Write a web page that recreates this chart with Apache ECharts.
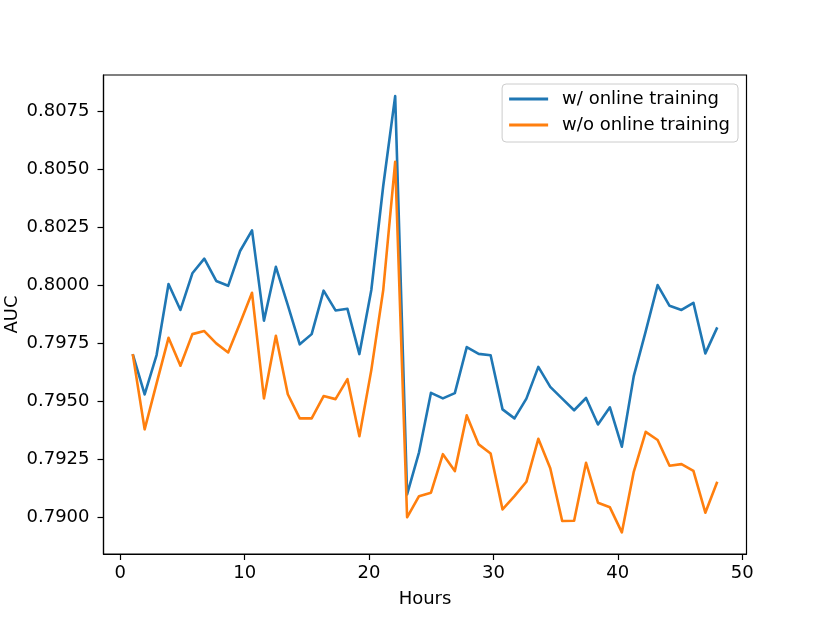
<!DOCTYPE html>
<html>
<head>
<meta charset="utf-8">
<script src="https://cdn.jsdelivr.net/npm/echarts@6/dist/echarts.min.js"></script>
<style>
html,body{margin:0;padding:0;background:#fff;}
#chart{width:830px;height:623px;}
</style>
</head>
<body>
<div id="chart"></div>
<script>
// x positions (hours): 50 evenly spaced samples between 1 and 48
const hours = [1.000, 1.959, 2.918, 3.878, 4.837, 5.796, 6.755, 7.714, 8.673, 9.633,
  10.592, 11.551, 12.510, 13.469, 14.429, 15.388, 16.347, 17.306, 18.265, 19.224,
  20.184, 21.143, 22.102, 23.061, 24.020, 24.980, 25.939, 26.898, 27.857, 28.816,
  29.776, 30.735, 31.694, 32.653, 33.612, 34.571, 35.531, 36.490, 37.449, 38.408,
  39.367, 40.327, 41.286, 42.245, 43.204, 44.163, 45.122, 46.082, 47.041, 48.000];

const withOnline = [0.79704, 0.79530, 0.79700, 0.80006, 0.79894, 0.80052, 0.80115, 0.80019, 0.79998, 0.80148,
  0.80237, 0.79848, 0.80080, 0.79915, 0.79746, 0.79790, 0.79977, 0.79892, 0.79899, 0.79704,
  0.79980, 0.80429, 0.80815, 0.79100, 0.79281, 0.79537, 0.79513, 0.79536, 0.79734, 0.79705,
  0.79699, 0.79466, 0.79427, 0.79512, 0.79649, 0.79563, 0.79512, 0.79462, 0.79515, 0.79401,
  0.79475, 0.79305, 0.79609, 0.79802, 0.80001, 0.79912, 0.79894, 0.79925, 0.79707, 0.79819];

const withoutOnline = [0.79704, 0.79380, 0.79578, 0.79774, 0.79654, 0.79790, 0.79803, 0.79750, 0.79711, 0.79838,
  0.79968, 0.79513, 0.79783, 0.79531, 0.79427, 0.79427, 0.79523, 0.79510, 0.79596, 0.79350,
  0.79635, 0.79980, 0.80532, 0.79001, 0.79092, 0.79107, 0.79273, 0.79200, 0.79440, 0.79315,
  0.79276, 0.79035, 0.79092, 0.79154, 0.79339, 0.79212, 0.78985, 0.78986, 0.79236, 0.79064,
  0.79044, 0.78936, 0.79197, 0.79369, 0.79334, 0.79223, 0.79230, 0.79201, 0.79021, 0.79154];

const xTicks = [0, 10, 20, 30, 40, 50];
const yTicks = [0.7900, 0.7925, 0.7950, 0.7975, 0.8000, 0.8025, 0.8050, 0.8075];
const seriesNames = ['w/ online training', 'w/o online training'];

const FONT = 'DejaVu Sans';
const FS = 18;
const chart = echarts.init(document.getElementById('chart'), null, {renderer: 'canvas'});

function pairs(xs, ys) { return xs.map((x, i) => [x, ys[i]]); }

chart.setOption({
  animation: false,
  backgroundColor: '#fff',
  grid: {
    left: 103.5, right: 83.5, top: 75, bottom: 69,
    containLabel: false,
    outerBoundsMode: 'none',
    show: true, borderColor: '#000', borderWidth: 1.2, backgroundColor: 'transparent'
  },
  legend: {
    orient: 'vertical',
    right: 92, top: 84,
    data: seriesNames,
    icon: 'rect',
    itemWidth: 39, itemHeight: 3, itemGap: 8,
    padding: [6, 8, 8, 7],
    backgroundColor: '#fff',
    borderColor: '#cccccc', borderWidth: 1, borderRadius: 4,
    textStyle: {fontFamily: FONT, fontSize: FS, color: '#000', lineHeight: 18, padding: [0, 0, 0, 9]}
  },
  xAxis: {
    type: 'value',
    min: -1.35, max: 50.35,
    name: 'Hours', nameLocation: 'middle', nameGap: 36, nameMoveOverlap: false,
    nameTextStyle: {fontFamily: FONT, fontSize: FS, color: '#000'},
    axisLine: {show: true, onZero: false, lineStyle: {color: '#000', width: 1.2}},
    axisTick: {show: true, length: 6, customValues: xTicks, lineStyle: {color: '#000', width: 1.2}},
    axisLabel: {customValues: xTicks, margin: 10, fontFamily: FONT, fontSize: FS, color: '#000'},
    splitLine: {show: false}
  },
  yAxis: {
    type: 'value',
    min: 0.78843, max: 0.80906,
    name: 'AUC', nameLocation: 'middle', nameGap: 82, nameRotate: 90, nameMoveOverlap: false,
    nameTextStyle: {fontFamily: FONT, fontSize: FS, color: '#000'},
    axisLine: {show: true, onZero: false, lineStyle: {color: '#000', width: 1.2}},
    axisTick: {show: true, length: 6, customValues: yTicks, lineStyle: {color: '#000', width: 1.2}},
    axisLabel: {customValues: yTicks, margin: 14, fontFamily: FONT, fontSize: FS, color: '#000',
      formatter: v => v.toFixed(4)},
    splitLine: {show: false}
  },
  series: [
    {
      name: seriesNames[0], type: 'line', data: pairs(hours, withOnline),
      symbol: 'none', color: '#1f77b4',
      lineStyle: {color: '#1f77b4', width: 2.6, join: 'round'}
    },
    {
      name: seriesNames[1], type: 'line', data: pairs(hours, withoutOnline),
      symbol: 'none', color: '#ff7f0e',
      lineStyle: {color: '#ff7f0e', width: 2.6, join: 'round'}
    }
  ]
});
</script>
</body>
</html>
